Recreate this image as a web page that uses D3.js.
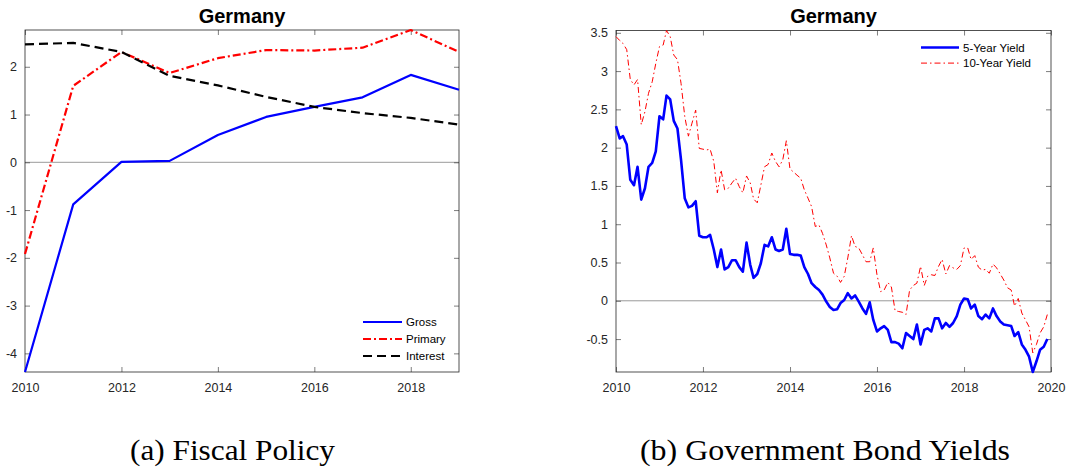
<!DOCTYPE html>
<html>
<head>
<meta charset="utf-8">
<script src="https://cdn.jsdelivr.net/npm/d3@7"></script>
<style>
  body { margin: 0; background: #fff; }
  svg { display: block; }
  .tick text { font-family: "Liberation Sans", Arial, sans-serif; font-size: 12.5px; fill: #262626; }
  .tick line { stroke: #262626; stroke-width: 0.6; }
  .title { font-family: "Liberation Sans", Arial, sans-serif; font-size: 20px; font-weight: bold; fill: #000; }
  .legend text { font-family: "Liberation Sans", Arial, sans-serif; font-size: 11.5px; fill: #000; }
  .caption { font-family: "Liberation Serif", "DejaVu Serif", serif; font-size: 30px; fill: #000; }
</style>
</head>
<body>
<script>
// ---- data: fiscal balances, % of GDP (panel a)
var fiscalYears = [2010, 2011, 2012, 2013, 2014, 2015, 2016, 2017, 2018, 2019];
var gross    = [-4.39, -0.88, 0.01, 0.03, 0.57, 0.95, 1.16, 1.36, 1.83, 1.52];
var primary  = [-1.92, 1.60, 2.31, 1.87, 2.18, 2.35, 2.34, 2.40, 2.77, 2.31];
var interest = [2.47, 2.50, 2.31, 1.81, 1.61, 1.37, 1.16, 1.03, 0.93, 0.79];

// ---- data: monthly bond yields Jan 2010 - Dec 2019 (panel b)
var yieldStart = [2010, 0];   // year, month index of first observation
var yield5 = [
  2.28, 2.12, 2.15, 2.04, 1.58, 1.51, 1.75, 1.32, 1.47, 1.75, 1.80, 1.95,
  2.41, 2.37, 2.68, 2.63, 2.35, 2.25, 1.84, 1.34, 1.22, 1.24, 1.30, 0.85,
  0.83, 0.83, 0.86, 0.67, 0.44, 0.67, 0.41, 0.44, 0.53, 0.53, 0.44, 0.38,
  0.76, 0.47, 0.30, 0.35, 0.49, 0.73, 0.71, 0.83, 0.67, 0.65, 0.67, 0.94,
  0.61, 0.60, 0.60, 0.59, 0.44, 0.35, 0.23, 0.18, 0.14, 0.08, -0.01, -0.08,
  -0.12, -0.11, -0.03, 0.01, 0.10, 0.03, 0.07, -0.01, -0.10, -0.17, -0.02, -0.25,
  -0.40, -0.36, -0.33, -0.38, -0.54, -0.54, -0.56, -0.62, -0.42, -0.46, -0.50, -0.31,
  -0.57, -0.38, -0.36, -0.40, -0.23, -0.23, -0.36, -0.29, -0.34, -0.29, -0.20, -0.05,
  0.03, 0.02, -0.10, -0.05, -0.20, -0.24, -0.18, -0.23, -0.10, -0.20, -0.27, -0.31,
  -0.32, -0.33, -0.46, -0.41, -0.57, -0.64, -0.73, -0.93, -0.79, -0.64, -0.60, -0.50
];
var yield10 = [
  3.45, 3.40, 3.36, 3.28, 2.89, 2.82, 2.89, 2.30, 2.47, 2.71, 2.86, 3.10,
  3.32, 3.34, 3.53, 3.45, 3.21, 3.15, 2.84, 2.41, 2.15, 2.32, 2.49, 1.99,
  1.98, 1.97, 1.98, 1.82, 1.41, 1.71, 1.45, 1.47, 1.54, 1.60, 1.49, 1.41,
  1.63, 1.54, 1.33, 1.28, 1.51, 1.75, 1.78, 1.93, 1.82, 1.75, 1.84, 2.09,
  1.72, 1.68, 1.64, 1.60, 1.45, 1.34, 1.23, 0.97, 0.99, 0.88, 0.73, 0.56,
  0.36, 0.32, 0.24, 0.32, 0.56, 0.85, 0.71, 0.69, 0.60, 0.51, 0.51, 0.69,
  0.34, 0.12, 0.14, 0.24, 0.18, -0.13, -0.14, -0.15, -0.18, 0.14, 0.20, 0.23,
  0.45, 0.20, 0.32, 0.34, 0.33, 0.45, 0.54, 0.35, 0.46, 0.43, 0.41, 0.46,
  0.69, 0.69, 0.54, 0.59, 0.44, 0.40, 0.41, 0.36, 0.48, 0.43, 0.35, 0.27,
  0.17, 0.14, -0.07, 0.03, -0.16, -0.25, -0.34, -0.68, -0.57, -0.42, -0.34, -0.18
];

var fiscalXTicks = [2010, 2012, 2014, 2016, 2018];
var fiscalYTicks = [-4, -3, -2, -1, 0, 1, 2];
var yieldXTicks = [2010, 2012, 2014, 2016, 2018, 2020];
var yieldYTicks = [-0.5, 0, 0.5, 1, 1.5, 2, 2.5, 3, 3.5];

var W = 1066, H = 467;
var svg = d3.select("body").append("svg").attr("width", W).attr("height", H);

// plain hyphen for negatives, like the original
var numFmt = function(d) { return String(d); };

// draws a MATLAB-style boxed axes, returns the scales
function panel(opts) {
  var g = svg.append("g").attr("transform", "translate(" + opts.left + "," + opts.top + ")");
  var w = opts.width, h = opts.height;
  var x = opts.x.range([0, w]);
  var y = d3.scaleLinear().domain(opts.yDomain).range([h, 0]);

  // zero line
  g.append("line")
    .attr("x1", 0).attr("x2", w)
    .attr("y1", y(0)).attr("y2", y(0))
    .attr("stroke", "#9a9a9a").attr("stroke-width", 1);

  var tl = 5;
  g.append("g").attr("transform", "translate(0," + h + ")")
    .call(d3.axisBottom(x).tickValues(opts.xTicks).tickSize(-tl).tickPadding(11).tickFormat(opts.xFormat))
    .call(function(a) { a.select(".domain").remove(); });
  g.append("g")
    .call(d3.axisTop(x).tickValues(opts.xTicks).tickSize(-tl).tickFormat(""))
    .call(function(a) { a.select(".domain").remove(); });
  g.append("g")
    .call(d3.axisLeft(y).tickValues(opts.yTicks).tickSize(-tl).tickPadding(8).tickFormat(numFmt))
    .call(function(a) { a.select(".domain").remove(); });
  g.append("g").attr("transform", "translate(" + w + ",0)")
    .call(d3.axisRight(y).tickValues(opts.yTicks).tickSize(-tl).tickFormat(""))
    .call(function(a) { a.select(".domain").remove(); });

  g.append("rect")
    .attr("width", w).attr("height", h)
    .attr("fill", "none").attr("stroke", "#262626").attr("stroke-width", 0.8);

  g.append("text").attr("class", "title")
    .attr("x", w / 2).attr("y", -7.5)
    .attr("text-anchor", "middle")
    .text(opts.title);

  return { g: g, x: x, y: y };
}

// ---------- panel (a)
var allFiscal = gross.concat(primary, interest);
var pa = panel({
  left: 25, top: 30, width: 434, height: 342,
  x: d3.scaleLinear().domain(d3.extent(fiscalYears)),
  yDomain: d3.extent(allFiscal),
  xTicks: fiscalXTicks, yTicks: fiscalYTicks,
  xFormat: d3.format("d"),
  title: "Germany"
});

var fiscalSeries = [
  { name: "Gross",    values: gross,    color: "#0000ff", dash: null,      width: 2.2 },
  { name: "Primary",  values: primary,  color: "#ff0000", dash: "8,3,2,3", width: 2.2 },
  { name: "Interest", values: interest, color: "#000000", dash: "9,5",     width: 2.2 }
];

var lineA = d3.line()
  .x(function(d, i) { return pa.x(fiscalYears[i]); })
  .y(function(d) { return pa.y(d); });

pa.g.selectAll(".fline")
  .data(fiscalSeries)
  .enter()
  .append("path")
    .attr("d", function(s) { return lineA(s.values); })
    .attr("fill", "none")
    .attr("stroke", function(s) { return s.color; })
    .attr("stroke-width", function(s) { return s.width; })
    .attr("stroke-dasharray", function(s) { return s.dash; })
    .attr("stroke-linejoin", "round");

var legA = pa.g.append("g").attr("class", "legend").attr("transform", "translate(338,292)");
fiscalSeries.forEach(function(s, i) {
  legA.append("line")
    .attr("x1", 0).attr("x2", 39)
    .attr("y1", i * 17).attr("y2", i * 17)
    .attr("stroke", s.color).attr("stroke-width", s.width)
    .attr("stroke-dasharray", s.dash);
  legA.append("text")
    .attr("x", 43).attr("y", i * 17 + 4)
    .text(s.name);
});

// ---------- panel (b)
var months = yield5.map(function(d, i) { return new Date(yieldStart[0], yieldStart[1] + i, 1); });
var allYields = yield5.concat(yield10);
var pb = panel({
  left: 616, top: 30.5, width: 435, height: 341.5,
  x: d3.scaleTime().domain([new Date(2010, 0, 1), new Date(2020, 0, 1)]),
  yDomain: d3.extent(allYields),
  xTicks: yieldXTicks.map(function(yr) { return new Date(yr, 0, 1); }),
  yTicks: yieldYTicks,
  xFormat: d3.timeFormat("%Y"),
  title: "Germany"
});

var yieldSeries = [
  { name: "5-Year Yield",  values: yield5,  color: "#0000ff", dash: null,        width: 2.6 },
  { name: "10-Year Yield", values: yield10, color: "#ff0000", dash: "6,3,1.5,3", width: 1 }
];

var lineB = d3.line()
  .x(function(d, i) { return pb.x(months[i]); })
  .y(function(d) { return pb.y(d); });

pb.g.selectAll(".yline")
  .data(yieldSeries)
  .enter()
  .append("path")
    .attr("d", function(s) { return lineB(s.values); })
    .attr("fill", "none")
    .attr("stroke", function(s) { return s.color; })
    .attr("stroke-width", function(s) { return s.width; })
    .attr("stroke-dasharray", function(s) { return s.dash; })
    .attr("stroke-linejoin", "round");

var legB = pb.g.append("g").attr("class", "legend").attr("transform", "translate(305,17)");
yieldSeries.forEach(function(s, i) {
  legB.append("line")
    .attr("x1", 0).attr("x2", 38)
    .attr("y1", i * 15.6).attr("y2", i * 15.6)
    .attr("stroke", s.color).attr("stroke-width", s.width)
    .attr("stroke-dasharray", s.dash);
  legB.append("text")
    .attr("x", 42).attr("y", i * 15.6 + 4)
    .text(s.name);
});

// ---------- captions (Computer Modern is wider than Times, so stretch a little)
svg.append("text").attr("class", "caption")
  .attr("x", 130).attr("y", 460)
  .attr("textLength", 205).attr("lengthAdjust", "spacingAndGlyphs")
  .text("(a) Fiscal Policy");
svg.append("text").attr("class", "caption")
  .attr("x", 640).attr("y", 460)
  .attr("textLength", 370).attr("lengthAdjust", "spacingAndGlyphs")
  .text("(b) Government Bond Yields");
</script>
</body>
</html>
